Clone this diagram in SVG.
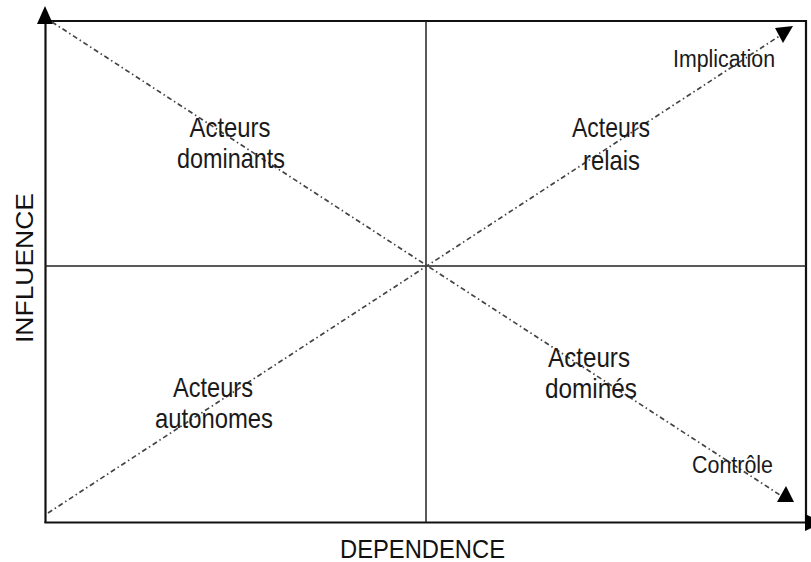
<svg xmlns="http://www.w3.org/2000/svg" width="811" height="562" viewBox="0 0 811 562">
<style>
.ax{stroke:#111;stroke-width:2.2;fill:none}
.mid{stroke:#222;stroke-width:1.5;fill:none}
.dd{stroke:#444;stroke-width:1.7;fill:none;stroke-dasharray:5 3 1.5 3}
.head{fill:#000}
.lbl{font-family:"Liberation Sans",Arial,sans-serif;font-size:28px;fill:#1a1a1a;text-anchor:middle}
.sm{font-family:"Liberation Sans",Arial,sans-serif;font-size:23px;fill:#1a1a1a;text-anchor:middle}
.axt{font-family:"Liberation Sans",Arial,sans-serif;fill:#111;text-anchor:middle}
</style>
<rect width="811" height="562" fill="#fff"/>
<g id="frame">
<line class="ax" x1="45.5" y1="523" x2="45.5" y2="22"/>
<line class="ax" x1="44.5" y1="21" x2="806" y2="21"/>
<line class="ax" x1="806" y1="20" x2="806" y2="522"/>
<line class="ax" x1="44.5" y1="522.5" x2="808" y2="522.5"/>
<polygon class="head" points="37,24 53,24 45,6"/>
<polygon class="head" points="805,514 823,522.5 805,531"/>
<line class="mid" x1="426" y1="21" x2="426" y2="522"/>
<line class="mid" x1="45" y1="266" x2="806" y2="266"/>
</g>
<g id="connectors">
<line class="dd" x1="52" y1="22" x2="780" y2="495"/>
<polygon class="head" points="777,502 794,502 786,486"/>
<line class="dd" x1="48" y1="513" x2="781" y2="35"/>
<polygon class="head" points="775,28 793,26 783,43"/>
</g>
<g id="dominants">
<text class="lbl" x="230" y="137" textLength="81" lengthAdjust="spacingAndGlyphs">Acteurs</text>
<text class="lbl" x="231" y="168" textLength="108" lengthAdjust="spacingAndGlyphs">dominants</text>
</g>
<g id="relais">
<text class="lbl" x="611" y="137" textLength="78" lengthAdjust="spacingAndGlyphs">Acteurs</text>
<text class="lbl" x="611.5" y="170" textLength="57" lengthAdjust="spacingAndGlyphs">relais</text>
</g>
<g id="autonomes">
<text class="lbl" x="213" y="397" textLength="80" lengthAdjust="spacingAndGlyphs">Acteurs</text>
<text class="lbl" x="214" y="428" textLength="118" lengthAdjust="spacingAndGlyphs">autonomes</text>
</g>
<g id="domines">
<text class="lbl" x="589" y="367" textLength="82" lengthAdjust="spacingAndGlyphs">Acteurs</text>
<text class="lbl" x="591" y="398" textLength="92" lengthAdjust="spacingAndGlyphs">dominés</text>
</g>
<g id="implication">
<text class="sm" x="724" y="67" textLength="102" lengthAdjust="spacingAndGlyphs">Implication</text>
</g>
<g id="controle">
<text class="sm" x="732.5" y="473" textLength="81" lengthAdjust="spacingAndGlyphs">Contrôle</text>
</g>
<g id="axis-labels">
<text class="axt" x="422.5" y="558" font-size="25.5" textLength="165" lengthAdjust="spacingAndGlyphs">DEPENDENCE</text>
<text class="axt" transform="translate(33,268) rotate(-90)" x="0" y="0" font-size="23" textLength="150" lengthAdjust="spacingAndGlyphs">INFLUENCE</text>
</g>
</svg>
